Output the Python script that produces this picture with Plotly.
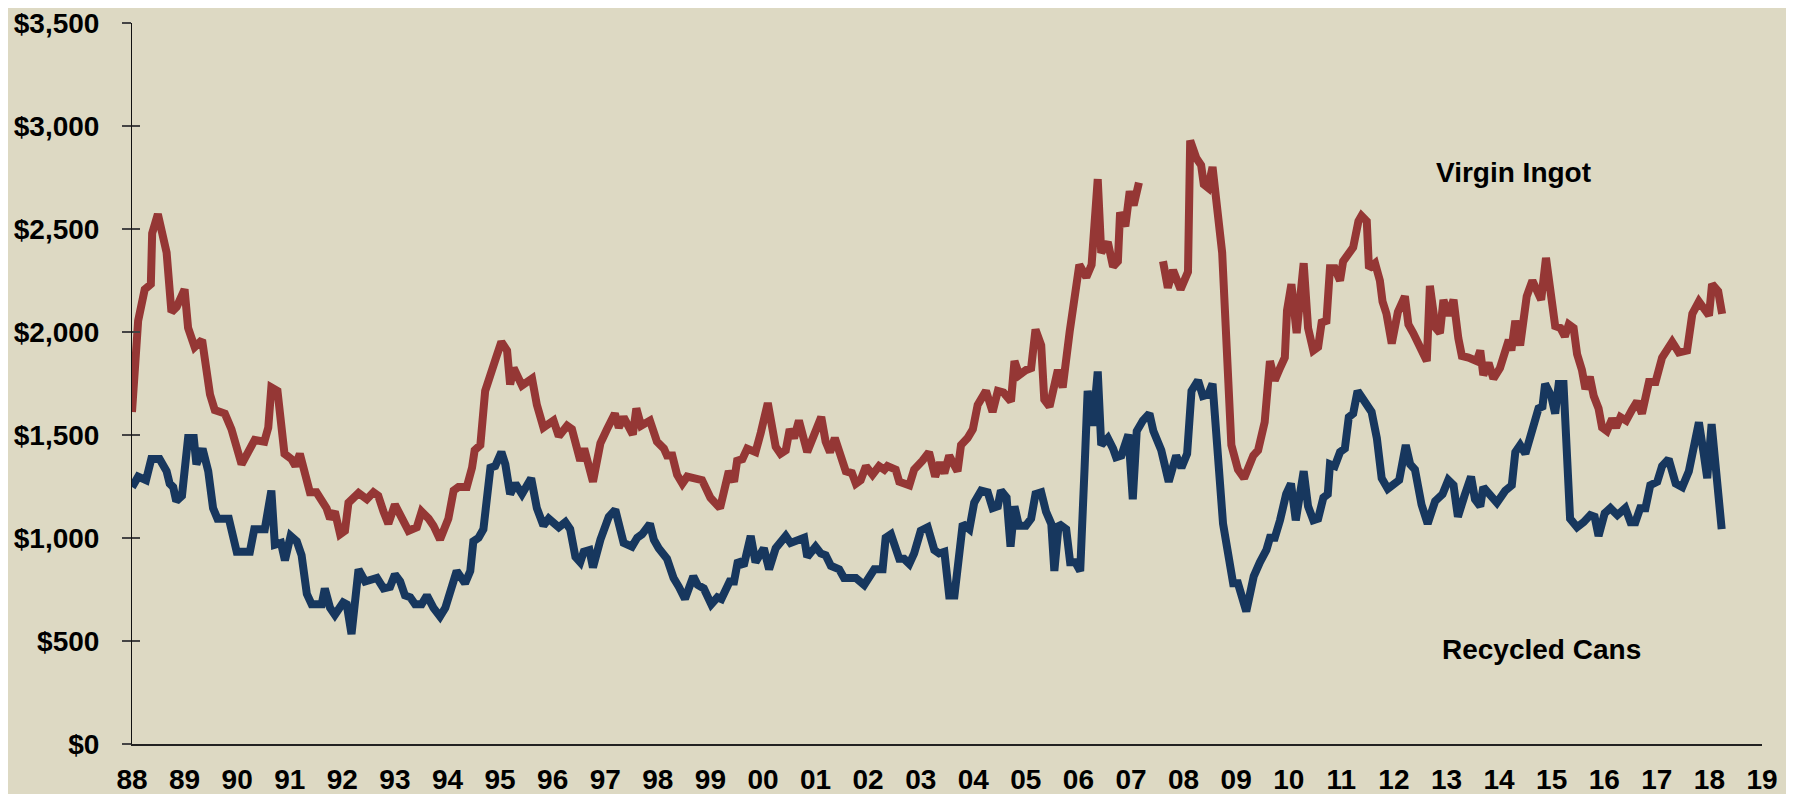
import plotly.graph_objects as go

# months since Jan 1988 and $/tonne
ingot_months = [0, 1.4, 2.9, 4.3, 4.6, 5.9, 7.9, 9, 10.2, 12, 12.8, 14.3, 16, 17.8, 18.9, 21.2, 22.7, 25, 26.5, 28,
                30.2, 31.1, 31.8, 33.2, 34.8, 36.4, 37.3, 38.3, 40.6, 42.1, 44.4, 45.2, 46.3, 47.5, 48.6, 49.4, 51.7,
                53.6, 55.1, 56.2, 57.4, 58.5, 60, 61.6, 63.1, 65, 66.1, 67.7, 68.8, 70.3, 72.2, 73.4, 74.5, 76.4,
                77.6, 78.2, 79.5, 80.6, 82.2, 83.1, 84.3, 85.6, 86.3, 87.1, 89,
                91.3, 92.4, 93.9, 96.2, 97.4, 99.3, 100.4, 102.3, 103.2, 105.2, 106.9, 108.4, 110.2, 111.1, 112.2,
                114.3, 115.1, 116.2, 118.2, 119.8, 121.4, 122.1, 123.3, 124.4, 125.6, 126.7, 130.1, 132, 134.2,
                136.2, 137.4, 138.1, 139.3, 140.4, 142.3, 143.5, 145.1, 146.9, 148, 149.2, 150.1, 151.1, 152.2,
                154.1, 155.6, 157.3, 158.3, 159.3, 160.4, 162.9, 164.3, 165.2, 166.3, 167.5, 169, 170.5, 171.7,
                172.4, 174.3, 175.1, 177.4, 178.5,
                180.4, 181.9, 183.3, 184.4, 185.4, 186.5, 188.4, 189.2, 190.7, 191.9, 193, 194.9, 196.4, 197.6,
                198.9, 200.6, 201.4, 202.5, 204.1, 205.2, 206.2, 207.5, 208.2, 209.4, 211.3, 212.4, 214, 216.2,
                217.8, 219, 220.4, 221.2, 222.7, 223.9, 225, 225.5, 226.7, 227.7, 228.6, 229.8, 232.5,
                235.3, 236.4, 237.6, 239.3, 241, 241.5, 242.9, 244, 244.6, 245.6, 246.6, 248.8, 250.9, 252.4,
                253.8, 255.1, 255.9, 257, 258.5, 259.7, 260.8, 262, 263.1, 263.6, 264.6, 265.8, 267.4, 268.4,
                269.6, 270.7, 271.5, 272.6, 273.4, 274.5, 275.7, 276.4, 277.6, 278.7, 279.9, 280.6, 281.8, 282.3,
                283.7, 284.8, 285.4, 286.3, 287.5, 288.9, 290.5, 291.3, 292.4, 293.6, 295.5, 296.2, 297.5, 298.5,
                299.3, 300.4, 301.6, 302.7, 303.5, 305, 306.9, 307.7, 308.4, 309.6, 310.7, 312.2, 313.4, 314.2,
                314.8, 315.7, 316.8, 318.3, 319.6, 321.6, 322.7, 323.9, 324.8, 326, 327, 327.9, 329, 329.8, 330.9,
                331.7, 332.7, 333.6, 334.7, 335.5, 336.6, 337.8, 338.7, 339.7, 341, 342.3, 343.5, 344.6, 346.2,
                347.7, 349.2, 351.5, 353, 354.9, 356.1, 357.6, 358.7, 359.9, 360.6, 362, 362.9]
ingot_price = [1612, 2054, 2207, 2232, 2479, 2572, 2385, 2097, 2122, 2207, 2020, 1927, 1961, 1697, 1621, 1604, 1528,
               1358, 1417, 1476, 1468, 1536, 1731, 1714, 1409, 1383, 1349, 1409, 1222, 1222, 1145, 1094, 1128, 1018,
               1035, 1171, 1218, 1188, 1222, 1205, 1128, 1069, 1162, 1094, 1035, 1052, 1128, 1094, 1060, 993, 1094,
               1230, 1247, 1247, 1341, 1426, 1451, 1714, 1833, 1876, 1952, 1910, 1745, 1825, 1740,
               1774, 1646, 1536, 1570, 1494, 1545, 1528, 1375, 1434, 1273, 1460, 1528, 1604, 1536, 1587, 1502,
               1629, 1545, 1570, 1468, 1434, 1400, 1400, 1307, 1264, 1298, 1281, 1196, 1145, 1324, 1273, 1375,
               1383, 1434, 1417, 1511, 1655, 1443, 1409, 1426, 1528, 1485, 1570, 1417, 1502, 1587, 1468, 1417,
               1485, 1324, 1315, 1264, 1281, 1349, 1307, 1349, 1332, 1349, 1332, 1273, 1256, 1332,
               1375, 1417, 1298, 1366, 1315, 1400, 1324, 1451, 1485, 1528, 1646, 1714, 1612, 1714, 1706, 1663,
               1859, 1791, 1816, 1825, 2012, 1935, 1672, 1638, 1816, 1731, 2003, 2326, 2266, 2326, 2742, 2385,
               2436, 2317, 2343, 2581, 2513, 2683, 2615, 2725, None,
               2343, 2215, 2300, 2207, 2292, 2929, 2844, 2810, 2717, 2700, 2801, 2385, 1451, 1332, 1290, 1358,
               1400, 1426, 1562, 1859, 1765, 1825, 1876, 2105, 2232, 1995, 2334, 2020,
               1910, 1927, 2046, 2054, 2309, 2309, 2249, 2343, 2385, 2411, 2538, 2564, 2538, 2309, 2334, 2249,
               2148, 2088, 1944, 2097, 2173, 2037, 1995, 1944, 1859, 2224, 2020, 1995, 2156, 2080, 2156, 1969,
               1884, 1876, 1859, 1910, 1791, 1850, 1774, 1825, 1910, 1961, 1910, 2054, 1935, 2173, 2249, 2156,
               2360, 2139, 2029, 2020, 1978, 2037, 2020, 1893, 1816, 1723, 1782, 1689, 1629, 1536, 1519, 1579,
               1536, 1587, 1570, 1621, 1663, 1604, 1757, 1757, 1876, 1952, 1901, 1910, 2088, 2148, 2122, 2080,
               2232, 2198, 2088]

cans_months = [0, 1.4, 3.2, 4.4, 6.3, 7.9, 8.6, 9.4, 10.1, 11.4, 12.8, 14.1, 14.7, 16.1, 17.4, 18.5, 19.5, 22.1,
               23.9, 26.9, 27.9, 30.3, 31.8, 32.6, 34, 34.9, 36.2, 37.6, 38.7, 39.9, 41, 43.3, 44, 45.2, 46.3, 48.2,
               49, 50.1, 51.7, 53.2, 55.9, 57.4, 58.9, 60, 61.2, 62.3, 63.5, 64.6, 66.1, 67.3, 68.8, 70.3, 71.5, 73,
               74.1, 76, 77.2, 77.9, 79.1, 80.2, 81.8, 82.9, 84.3, 85.2, 86.3, 87.5, 89,
               91.1, 92.4, 93.9, 95.1, 97.4, 98.9, 100, 101.2, 102.3, 103.1, 104.4, 105.2, 106.9, 108.8, 110.3,
               112.2, 114.1, 115.3, 116.4, 118.2, 119.1, 120.2, 122.1, 123.6, 124.8, 126.2, 128.1, 129.1, 130.5,
               132.2, 133.6, 134.5, 136.4, 137.4, 138.3, 139.6, 141.2, 142.3, 144.2, 145.4, 146.9, 149.2, 150.3,
               151.8, 153.4, 154.1, 156, 157.2, 158.3, 159.5, 161.4, 162.5, 165.2, 167.1, 169.4, 171.3, 172, 173.2,
               175.1, 176.2, 177.4, 178.5,
               180, 181.6, 183.1, 184.2, 185.4, 186.5, 187.7, 189.6, 191.1, 192.2, 193.8, 195.3, 196.4, 197.6,
               198.3, 199.6, 200.5, 201.4, 202.4, 204, 205.2, 206.2, 207.5, 208.6, 209.8, 210.5, 211.5, 213.2,
               214.1, 215.3, 216.4, 217.4, 218.1, 219.3, 220.4, 221.2, 222.7, 223.9, 224.6, 225.8, 227.4, 228.4,
               229.3, 230.7, 232.2, 233.1, 234.9, 236.6, 238.3, 239.5, 240.8, 241.8, 243.3, 244.4, 245.6, 246.6,
               249, 251.3, 252.4, 254.3, 256, 257.4, 258.9, 259.7, 260.8, 262, 263.4, 264.5, 265.6, 267.4, 268.4,
               269.6, 270.7, 271.9, 272.9, 273.4, 274.5, 275.7, 276.8, 277.7, 278.7, 279.7, 281.4, 282.9, 284.1,
               285.2, 286.6, 287.9, 289.2, 290.7, 291.7, 292.8, 294.3, 295.7, 297.4, 299.1, 300.4, 301.6, 302.6,
               304.1, 305.6, 306.5, 307.7, 308.4, 309.9, 311.5, 313.4, 314.9, 315.7, 316.8, 318, 319.9, 321,
               321.9, 322.5, 323.9, 324.8, 325.6, 326.7, 328.2, 329.8, 331.3, 332.8, 333.8, 334.7, 336.1, 337.4,
               339, 340.8, 342, 343.1, 344.2, 345.4, 346.5, 348.1, 349.2, 350.7, 352.3, 353.8, 355.3, 356.5,
               357.6, 358.7, 359.5, 360.5, 361.6, 362.8]
cans_price = [1247, 1298, 1281, 1383, 1383, 1324, 1264, 1247, 1179, 1205, 1485, 1485, 1358, 1434, 1324, 1145, 1094,
              1094, 933, 933, 1043, 1043, 1230, 967, 976, 891, 1010, 984, 916, 729, 678, 678, 755, 661, 627, 687,
              678, 534, 848, 789, 806, 755, 763, 823, 789, 721, 712, 678, 678, 721, 661, 619, 661, 772, 840, 780,
              840, 984, 1001, 1043, 1341, 1349, 1417, 1358, 1213, 1264, 1213,
              1290, 1145, 1060, 1094, 1052, 1077, 1043, 908, 882, 933, 941, 857, 992, 1103, 1137, 976, 958, 1001,
              1018, 1069, 992, 950, 899, 806, 763, 704, 814, 772, 755, 678, 712, 704, 789, 789, 891, 865, 1010,
              882, 950, 848, 950, 1010, 976, 984, 1001, 908, 958, 925, 916, 865, 848, 806, 806, 772, 848, 848,
              1001, 1018, 899, 899, 874, 925,
              1035, 1052, 942, 925, 933, 721, 721, 1069, 1043, 1171, 1230, 1222, 1145, 1154, 1230, 1196, 958,
              1154, 1060, 1060, 1094, 1213, 1222, 1128, 1069, 840, 1069, 1043, 882, 882, 840, 1341, 1714, 1545,
              1808, 1451, 1485, 1434, 1392, 1400, 1502, 1188, 1519, 1570, 1604, 1519, 1426, 1273, 1400, 1341,
              1409, 1714, 1765, 1689, 1697, 1748, 1069, 780, 780, 644, 814, 882, 942, 1001, 1001, 1086, 1213,
              1264, 1086, 1324, 1154,
              1086, 1094, 1196, 1213, 1358, 1349, 1417, 1434, 1587, 1604, 1714, 1663, 1612, 1485, 1290, 1239,
              1256, 1281, 1451, 1358, 1332, 1162, 1069, 1179, 1213, 1281, 1256, 1103, 1205, 1298, 1188, 1154,
              1247, 1205, 1171, 1230, 1256, 1417, 1451, 1409, 1545, 1629, 1638, 1748, 1689, 1604, 1748, 1748,
              1094, 1052, 1077, 1111, 1103, 1010, 1120, 1145, 1111, 1145, 1077, 1077, 1145, 1145, 1256, 1273,
              1349, 1383, 1264, 1247, 1324, 1451, 1562, 1409, 1290, 1553, 1315, 1043]

years = list(range(1988, 2020))
year_labels = [str(y)[2:] for y in years]
price_ticks = [0, 500, 1000, 1500, 2000, 2500, 3000, 3500]
price_labels = ["$" + format(p, ",") for p in price_ticks]

font_family = "Liberation Sans, Arial, sans-serif"

fig = go.Figure()
fig.add_trace(go.Scatter(x=[1988 + m / 12 for m in ingot_months], y=ingot_price, mode="lines",
                         line=dict(color="#953735", width=8), connectgaps=False, name="Virgin Ingot"))
fig.add_trace(go.Scatter(x=[1988 + m / 12 for m in cans_months], y=cans_price, mode="lines",
                         line=dict(color="#17375E", width=8), name="Recycled Cans"))
# invisible copy so the inner tick axis gets drawn
fig.add_trace(go.Scatter(x=[1988, 2019], y=[0, 0], yaxis="y2", mode="lines",
                         line=dict(width=0), hoverinfo="skip", showlegend=False))

fig.add_annotation(x=2014.28, y=2776, text="<b>Virgin Ingot</b>", showarrow=False,
                   font=dict(family=font_family, size=28, color="black"))
fig.add_annotation(x=2014.81, y=458, text="<b>Recycled Cans</b>", showarrow=False,
                   font=dict(family=font_family, size=28, color="black"))

# page has an 8px body margin, so the figure is a bit smaller than the window
fig.update_layout(
    width=1778, height=786,
    margin=dict(l=124, r=24, t=15, b=50),
    paper_bgcolor="#DDD9C3", plot_bgcolor="#DDD9C3",
    showlegend=False,
    font=dict(family=font_family, size=28, color="black"),
    xaxis=dict(range=[1988, 2019], tickvals=years, ticktext=["<b>%s</b>" % t for t in year_labels],
               showgrid=False, zeroline=False, showline=True, linecolor="#222", linewidth=1.5,
               ticks="", ticklabelstandoff=10, automargin=False, ticklabeloverflow="allow"),
    yaxis=dict(range=[0, 3500], tickvals=price_ticks, ticktext=["<b>%s</b>" % t for t in price_labels],
               showgrid=False, zeroline=False, showline=True, linecolor="#111", linewidth=1,
               ticks="outside", ticklen=9, tickcolor="#444", tickwidth=1.5, ticklabelstandoff=17,
               automargin=False, ticklabeloverflow="allow"),
    yaxis2=dict(range=[0, 3500], overlaying="y", side="left", tickvals=price_ticks, showticklabels=False,
                showgrid=False, zeroline=False, showline=False, automargin=False,
                ticks="inside", ticklen=8, tickcolor="#444", tickwidth=1.5),
)

fig.write_html("out.html")
